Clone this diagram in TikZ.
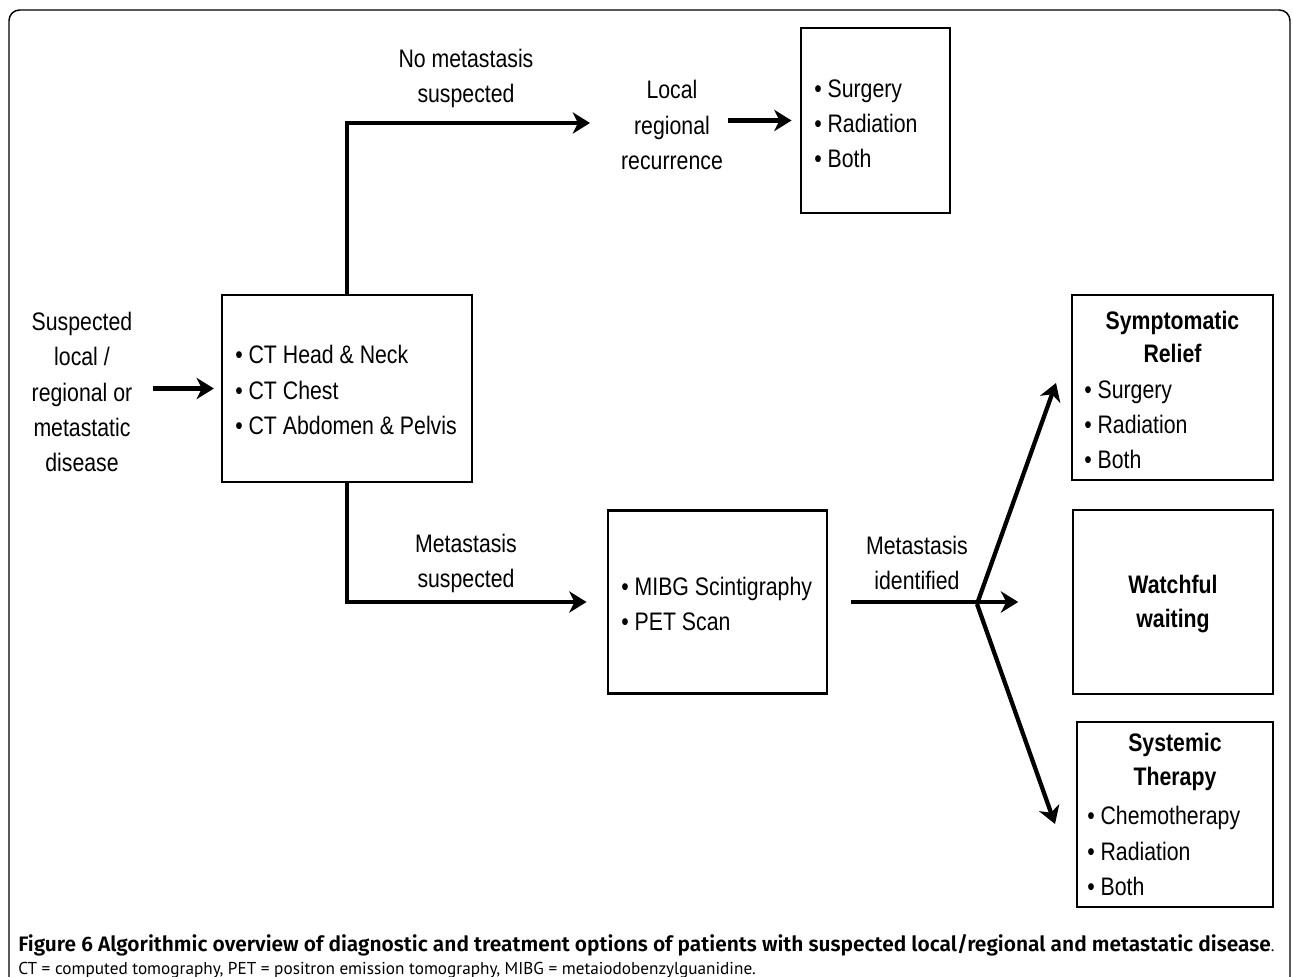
\documentclass[tikz,border=0pt]{standalone}
\usepackage{fontspec}
\setmainfont[FakeStretch=0.84]{Liberation Sans}
\newfontfamily\capfont{PT Sans}
\newfontfamily\capbold{Fira Sans SemiBold}
\usetikzlibrary{arrows.meta}

\begin{document}
\begin{tikzpicture}[x=0.75pt,y=-0.75pt,
  panel/.style={draw, line width=2.2pt, inner sep=0pt},
  txt/.style={inner sep=0pt, font=\fontsize{19}{26.3}\selectfont},
  mid/.style={txt, align=center},
  items/.style={txt, align=left, anchor=west},
  head/.style={mid, font=\fontsize{19}{25}\selectfont\bfseries},
  arr/.style={line width=3.2pt, -{Stealth[length=13pt,width=16pt,inset=4pt]}}]
\useasboundingbox (0,0) rectangle (1293,977);
\draw[line width=1.1pt, rounded corners=8pt] (9,990) -- (9,10) -- (1290,10) -- (1290,990);

\node[panel, minimum width=187.5pt, minimum height=140.25pt] (ct) at (347,388.5) {};
\node[panel, minimum width=111.75pt, minimum height=138.75pt] (opts) at (875.5,120.5) {};
\node[panel, minimum width=164.25pt, minimum height=137.25pt] (mibg) at (717.5,602) {};
\node[panel, minimum width=150.75pt, minimum height=138.75pt] (relief) at (1172.5,387.5) {};
\node[panel, minimum width=150pt, minimum height=138pt] (wait) at (1173,602) {};
\node[panel, minimum width=147pt, minimum height=138.75pt] (sys) at (1175,814.5) {};

\node[mid] (susp) at (82,392) {Suspected\\local /\\regional or\\metastatic\\disease};
\node[items] (ctlist) at (235,390) {\textbullet\ CT Head \& Neck\\\textbullet\ CT Chest\\\textbullet\ CT Abdomen \& Pelvis};
\node[mid] (nometa) at (466,78) {No metastasis\\suspected};
\node[mid] (local) at (672,125) {Local\\regional\\recurrence};
\node[items] (optlist) at (814,124) {\textbullet\ Surgery\\\textbullet\ Radiation\\\textbullet\ Both};
\node[mid] (meta) at (466,563) {Metastasis\\suspected};
\node[items] (mibglist) at (621,604) {\textbullet\ MIBG Scintigraphy\\\textbullet\ PET Scan};
\node[mid] (ident) at (917,563) {Metastasis\\identified};
\node[head] (relieftitle) at (1172.5,337) {Symptomatic\\Relief};
\node[items] (relieflist) at (1084,425) {\textbullet\ Surgery\\\textbullet\ Radiation\\\textbullet\ Both};
\node[head] (waittxt) at (1173,604) {Watchful\\waiting};
\node[head] (systitle) at (1175,762) {Systemic\\Therapy};
\node[items] (syslist) at (1087,851) {\textbullet\ Chemotherapy\\\textbullet\ Radiation\\\textbullet\ Both};

\coordinate (topend) at (590,123);
\coordinate (split) at (977,604);
\coordinate (uptip) at (1056,383);
\coordinate (downtip) at (1055,824);

\draw[arr, shorten <=15pt, shorten >=5pt] (susp.east |- ct.west) -- (ct.west);
\draw[arr] (ct.north) |- (topend);
\draw[arr, shorten <=4pt, shorten >=6pt] (local.east |- opts.west) -- (opts.west);
\draw[arr, shorten >=15pt] (ct.south) |- (mibg.west);
\draw[arr, shorten <=17pt, shorten >=40pt] (mibg.east) -- (wait.west);
\draw[arr] (split) -- (uptip);
\draw[arr] (split) -- (downtip);

\node[anchor=north west, inner sep=0pt, align=left, font=\capfont\fontsize{12.9}{17.5}\selectfont] (caption) at (18,934)
  {{\capbold\fontsize{15.7}{17.5}\selectfont Figure 6 Algorithmic overview of diagnostic and treatment options of patients with suspected local/regional and metastatic disease}.\\
  CT = computed tomography, PET = positron emission tomography, MIBG = metaiodobenzylguanidine.};
\end{tikzpicture}
\end{document}
